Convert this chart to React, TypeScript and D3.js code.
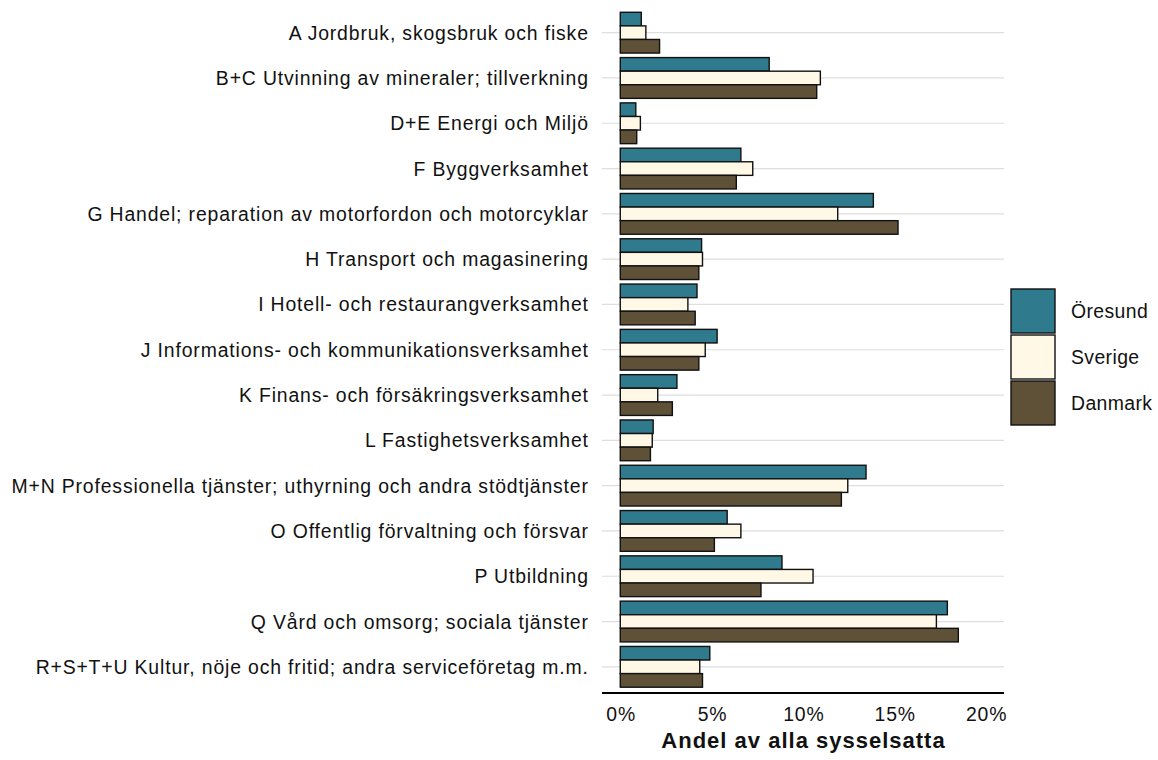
import * as d3 from "d3"
import { useEffect, useRef } from "react"

// Branscher (uppifrån och ned)
const categories = [
  "A Jordbruk, skogsbruk och fiske",
  "B+C Utvinning av mineraler; tillverkning",
  "D+E Energi och Miljö",
  "F Byggverksamhet",
  "G Handel; reparation av motorfordon och motorcyklar",
  "H Transport och magasinering",
  "I Hotell- och restaurangverksamhet",
  "J Informations- och kommunikationsverksamhet",
  "K Finans- och försäkringsverksamhet",
  "L Fastighetsverksamhet",
  "M+N Professionella tjänster; uthyrning och andra stödtjänster",
  "O Offentlig förvaltning och försvar",
  "P Utbildning",
  "Q Vård och omsorg; sociala tjänster",
  "R+S+T+U Kultur, nöje och fritid; andra serviceföretag m.m.",
]

const seriesNames = ["Öresund", "Sverige", "Danmark"]
const seriesColors = ["#2f7a8d", "#fff8e6", "#5e5138"]

// Andel av alla sysselsatta, procent
const oresund = [1.15, 8.15, 0.85, 6.6, 13.85, 4.45, 4.2, 5.3, 3.1, 1.8, 13.45, 5.85, 8.85, 17.9, 4.9]
const sverige = [1.4, 10.95, 1.1, 7.25, 11.9, 4.5, 3.7, 4.65, 2.05, 1.75, 12.45, 6.6, 10.55, 17.3, 4.35]
const danmark = [2.15, 10.75, 0.9, 6.35, 15.2, 4.3, 4.1, 4.3, 2.85, 1.65, 12.1, 5.15, 7.7, 18.5, 4.5]

const xTicks = [0, 5, 10, 15, 20]

const W = 1158
const H = 760

const App: React.FC = () => {
  const svgRef = useRef<SVGSVGElement | null>(null)

  useEffect(() => {
    if (!svgRef.current) return
    const svg = d3.select(svgRef.current)
    svg.selectAll("*").remove()

    const panel = { left: 602, right: 1004, top: 5.5, bottom: 694 }
    const font = "'Liberation Sans', Arial, sans-serif"
    const textSize = "19.4px"
    const spacing = "0.85px"

    const x = d3.scaleLinear().domain([-1, 21]).range([panel.left, panel.right])
    const y = d3
      .scaleBand()
      .domain(categories)
      .range([panel.top, panel.bottom])
      .paddingInner(0.1)
      .paddingOuter(0.15)
    const ySub = d3
      .scaleBand()
      .domain(seriesNames)
      .range([0, y.bandwidth()])
      .padding(0)

    const values = [oresund, sverige, danmark]

    // gridlines at category centres
    svg
      .append("g")
      .selectAll("line")
      .data(categories)
      .enter()
      .append("line")
      .attr("x1", panel.left)
      .attr("x2", panel.right)
      .attr("y1", (d) => y(d)! + y.bandwidth() / 2)
      .attr("y2", (d) => y(d)! + y.bandwidth() / 2)
      .attr("stroke", "#dedede")
      .attr("stroke-width", 1.2)

    // bars
    seriesNames.forEach((s, si) => {
      svg
        .append("g")
        .selectAll("rect")
        .data(categories)
        .enter()
        .append("rect")
        .attr("x", x(0))
        .attr("y", (d) => y(d)! + ySub(s)!)
        .attr("width", (d, i) => x(values[si][i]) - x(0))
        .attr("height", ySub.bandwidth())
        .attr("fill", seriesColors[si])
        .attr("stroke", "#111")
        .attr("stroke-width", 1.4)
    })

    // y labels
    svg
      .append("g")
      .selectAll("text")
      .data(categories)
      .enter()
      .append("text")
      .attr("x", panel.left - 13.2)
      .attr("y", (d) => y(d)! + y.bandwidth() / 2)
      .attr("dy", "0.36em")
      .attr("text-anchor", "end")
      .style("font", `${textSize} ${font}`)
      .style("letter-spacing", spacing)
      .attr("fill", "#111")
      .text((d) => d)

    // x axis
    const xAxis = d3
      .axisBottom(x)
      .tickValues(xTicks)
      .tickSize(0)
      .tickPadding(14)
      .tickFormat((d) => `${d}%`)
    const gx = svg
      .append("g")
      .attr("transform", `translate(0,${panel.bottom - 1})`)
      .call(xAxis)
    gx.select(".domain").remove()
    gx.selectAll(".tick text")
      .style("font", `${textSize} ${font}`)
      .style("letter-spacing", spacing)
      .attr("dx", "0.4px")
      .attr("fill", "#111")

    svg
      .append("line")
      .attr("x1", panel.left)
      .attr("x2", panel.right)
      .attr("y1", panel.bottom - 1)
      .attr("y2", panel.bottom - 1)
      .attr("stroke", "#000")
      .attr("stroke-width", 2)

    svg
      .append("text")
      .attr("x", (panel.left + panel.right) / 2 + 0.5)
      .attr("y", 748)
      .attr("text-anchor", "middle")
      .style("font", `bold 22px ${font}`)
      .style("letter-spacing", "1px")
      .attr("fill", "#111")
      .text("Andel av alla sysselsatta")

    // legend
    const key = 44
    const legend = svg.append("g").attr("transform", "translate(1011,289)")
    seriesNames.forEach((s, i) => {
      const g = legend.append("g").attr("transform", `translate(0,${i * (key + 2)})`)
      g.append("rect")
        .attr("width", key)
        .attr("height", key)
        .attr("fill", seriesColors[i])
        .attr("stroke", "#111")
        .attr("stroke-width", 1.4)
      g.append("text")
        .attr("x", key + 16)
        .attr("y", key / 2)
        .attr("dy", "0.36em")
        .style("font", `${textSize} ${font}`)
        .style("letter-spacing", "0.4px")
        .attr("fill", "#111")
        .text(s)
    })
  }, [])

  return (
    <svg
      ref={svgRef}
      width={W}
      height={H}
      style={{ position: "absolute", left: 0, top: 0, background: "#fff" }}
    />
  )
}

export default App
